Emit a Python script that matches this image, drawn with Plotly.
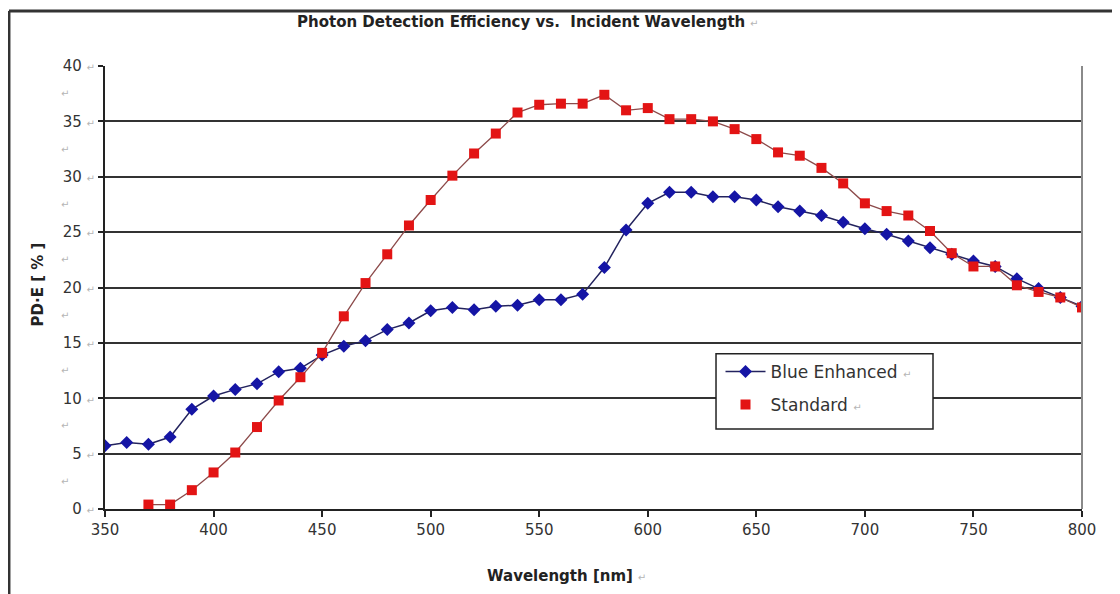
import plotly.graph_objects as go

# wavelength grid [nm]
wl_blue = [350, 360, 370, 380, 390, 400, 410, 420, 430, 440, 450, 460, 470, 480, 490,
           500, 510, 520, 530, 540, 550, 560, 570, 580, 590, 600, 610, 620, 630, 640,
           650, 660, 670, 680, 690, 700, 710, 720, 730, 740, 750, 760, 770, 780, 790, 800]
pde_blue = [5.7, 6.0, 5.85, 6.5, 9.0, 10.2, 10.8, 11.3, 12.4, 12.7, 13.9, 14.7, 15.2, 16.2, 16.8,
            17.9, 18.2, 18.0, 18.3, 18.4, 18.9, 18.9, 19.4, 21.8, 25.2, 27.6, 28.6, 28.6, 28.2, 28.2,
            27.9, 27.3, 26.9, 26.5, 25.9, 25.3, 24.8, 24.2, 23.6, 23.0, 22.4, 21.9, 20.8, 19.9, 19.1, 18.3]

wl_std = [370, 380, 390, 400, 410, 420, 430, 440, 450, 460, 470, 480, 490,
          500, 510, 520, 530, 540, 550, 560, 570, 580, 590, 600, 610, 620, 630, 640,
          650, 660, 670, 680, 690, 700, 710, 720, 730, 740, 750, 760, 770, 780, 790, 800]
pde_std = [0.4, 0.4, 1.7, 3.3, 5.1, 7.4, 9.8, 11.9, 14.1, 17.4, 20.4, 23.0, 25.6,
           27.9, 30.1, 32.1, 33.9, 35.8, 36.5, 36.6, 36.6, 37.4, 36.0, 36.2, 35.2, 35.2, 35.0, 34.3,
           33.4, 32.2, 31.9, 30.8, 29.4, 27.6, 26.9, 26.5, 25.1, 23.1, 21.9, 21.9, 20.2, 19.6, 19.1, 18.2]

x_ticks = [350, 400, 450, 500, 550, 600, 650, 700, 750, 800]
y_ticks = [0, 5, 10, 15, 20, 25, 30, 35, 40]
y_half = [2.5, 7.5, 12.5, 17.5, 22.5, 27.5, 32.5, 37.5]

RET = "<span style='color:#b5b5b5;font-size:10px'>\u21b5</span>"
FONT = "DejaVu Sans, Arial, sans-serif"

fig = go.Figure()

fig.add_trace(go.Scatter(
    x=wl_blue, y=pde_blue, mode="lines+markers", name="Blue Enhanced " + RET,
    legendgroup="a",
    line=dict(color="#23235e", width=1.5),
    marker=dict(symbol="diamond", size=10, color="#1515a5"),
))
# red line drawn separately so the legend shows only the square
fig.add_trace(go.Scatter(
    x=wl_std, y=pde_std, mode="lines", showlegend=False,
    line=dict(color="#8c4a4a", width=1.3), hoverinfo="skip",
))
fig.add_trace(go.Scatter(
    x=wl_std, y=pde_std, mode="markers", name="Standard " + RET,
    legendgroup="b",
    marker=dict(symbol="square", size=10, color="#e31414"),
))

annotations = [
    dict(text="<b>Photon Detection Efficiency vs.  Incident Wavelength</b> " + RET,
         x=0.432, y=1.10, xanchor="center", yanchor="middle",
         xref="paper", yref="paper", showarrow=False,
         font=dict(size=15, color="#222")),
    dict(text="<b>Wavelength [nm]</b> " + RET,
         x=0.472, y=-0.151, xanchor="center", yanchor="middle",
         xref="paper", yref="paper", showarrow=False,
         font=dict(size=15, color="#222")),
    dict(text="<b>PD\u00b7E [ % ]</b>", textangle=-90,
         x=-0.069, y=0.506, xanchor="center", yanchor="middle",
         xref="paper", yref="paper", showarrow=False,
         font=dict(size=15, color="#222")),
]
for v in y_half:
    annotations.append(dict(text="\u21b5", x=-0.041, y=v, xanchor="center", yanchor="middle",
                            xref="paper", yref="y",
                            showarrow=False, font=dict(size=10, color="#b5b5b5")))

# page body adds an 8px offset, so the figure is 8px smaller than the window
fig.update_layout(
    width=1112, height=586,
    margin=dict(l=97, r=38, t=58, b=85),
    paper_bgcolor="white", plot_bgcolor="white",
    font=dict(family=FONT, size=15, color="#333"),
    showlegend=True,
    legend=dict(x=0.630, y=0.35, xanchor="left", yanchor="top",
                borderwidth=0, bgcolor="rgba(0,0,0,0)",
                font=dict(size=17, color="#333"), itemwidth=40,
                traceorder="grouped", tracegroupgap=8),
    annotations=annotations,
    shapes=[
        # outer chart frame (left + top)
        dict(type="line", xref="paper", yref="paper", x0=-0.0983, x1=-0.0983, y0=1.124, y1=-0.21,
             line=dict(color="#333", width=3)),
        dict(type="line", xref="paper", yref="paper", x0=-0.0983, x1=1.05, y0=1.124, y1=1.124,
             line=dict(color="#333", width=3)),
        # right border of plot area
        dict(type="line", xref="paper", yref="paper", x0=1, x1=1, y0=0, y1=1,
             line=dict(color="#8a8a8a", width=2)),
        # legend box
        dict(type="rect", xref="paper", yref="paper", x0=0.6254, x1=0.8475, y0=0.1808, y1=0.3503,
             fillcolor="white", line=dict(color="#222", width=1.5), layer="above"),
    ],
)

fig.update_xaxes(
    range=[350, 800], tickvals=x_ticks, showgrid=False, zeroline=False,
    showline=True, linecolor="#222", linewidth=2,
    ticks="outside", ticklen=6, tickwidth=1.5, tickcolor="#222",
)
fig.update_yaxes(
    range=[0, 40], tickvals=y_ticks, ticktext=[f"{v} " + RET for v in y_ticks],
    showgrid=True, gridcolor="#333", gridwidth=2, zeroline=False,
    showline=True, linecolor="#222", linewidth=2,
    ticks="outside", ticklen=5, tickwidth=1.5, tickcolor="#222",
)

fig.write_html("out.html")
